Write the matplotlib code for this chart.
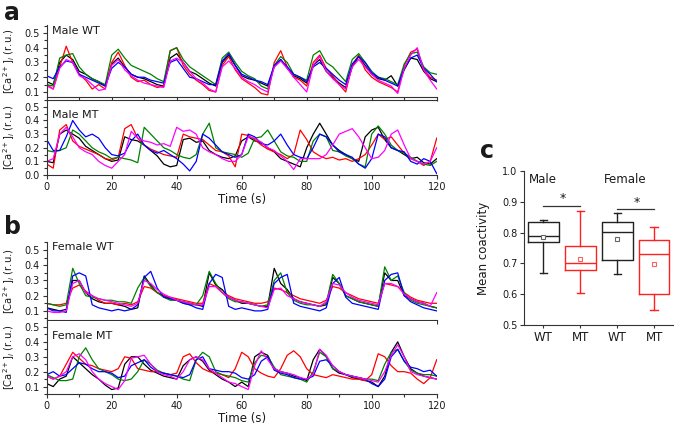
import numpy as np
import matplotlib
matplotlib.use("Agg")
import matplotlib.pyplot as plt
from matplotlib.ticker import MultipleLocator

# ---------------- data ----------------
time_s = np.arange(0, 121, 2)  # sampling grid of read-off values (s)

trace_colors = ["#000000", "#ff0000", "#008000", "#0000ff", "#ff00ff"]

male_wt_black = [0.17,0.15,0.30,0.35,0.32,0.24,0.22,0.19,0.17,0.14,0.29,0.33,0.27,0.22,0.20,0.19,0.17,0.15,0.14,0.33,0.36,0.30,0.24,0.22,0.19,0.16,0.14,0.30,0.35,0.28,0.21,0.19,0.18,0.16,0.14,0.27,0.32,0.26,0.21,0.19,0.16,0.28,0.32,0.24,0.20,0.16,0.13,0.27,0.34,0.28,0.22,0.19,0.18,0.21,0.14,0.25,0.33,0.32,0.24,0.19,0.17]
male_wt_red = [0.15,0.12,0.27,0.41,0.30,0.22,0.18,0.12,0.15,0.12,0.30,0.37,0.28,0.20,0.17,0.18,0.15,0.13,0.14,0.38,0.40,0.28,0.22,0.18,0.15,0.11,0.10,0.28,0.34,0.25,0.19,0.16,0.13,0.09,0.08,0.30,0.38,0.27,0.20,0.18,0.14,0.30,0.35,0.26,0.21,0.15,0.10,0.28,0.35,0.25,0.20,0.17,0.15,0.13,0.10,0.28,0.37,0.39,0.25,0.20,0.18]
male_wt_green = [0.15,0.14,0.33,0.35,0.36,0.27,0.22,0.19,0.17,0.15,0.35,0.39,0.33,0.28,0.26,0.24,0.22,0.19,0.17,0.38,0.40,0.32,0.27,0.24,0.21,0.18,0.15,0.33,0.37,0.30,0.24,0.21,0.19,0.14,0.12,0.28,0.34,0.30,0.22,0.20,0.18,0.35,0.38,0.30,0.27,0.22,0.17,0.32,0.36,0.30,0.24,0.20,0.19,0.17,0.15,0.29,0.36,0.37,0.27,0.23,0.22]
male_wt_blue = [0.21,0.19,0.27,0.31,0.30,0.22,0.20,0.18,0.16,0.14,0.26,0.30,0.27,0.22,0.20,0.20,0.18,0.17,0.16,0.30,0.32,0.26,0.20,0.19,0.17,0.15,0.15,0.31,0.36,0.28,0.22,0.20,0.18,0.17,0.15,0.28,0.32,0.27,0.22,0.20,0.17,0.27,0.30,0.26,0.22,0.18,0.15,0.29,0.34,0.30,0.23,0.20,0.18,0.16,0.14,0.26,0.33,0.35,0.26,0.22,0.17]
male_wt_magenta = [0.14,0.12,0.26,0.32,0.30,0.21,0.19,0.15,0.11,0.12,0.28,0.32,0.25,0.21,0.18,0.16,0.15,0.14,0.13,0.31,0.33,0.30,0.24,0.19,0.16,0.12,0.10,0.27,0.31,0.26,0.20,0.17,0.15,0.12,0.10,0.27,0.31,0.26,0.20,0.15,0.10,0.28,0.34,0.24,0.19,0.15,0.12,0.27,0.32,0.27,0.22,0.18,0.16,0.14,0.09,0.26,0.35,0.40,0.25,0.18,0.12]

male_mt_black = [0.10,0.09,0.30,0.33,0.30,0.27,0.21,0.18,0.15,0.12,0.10,0.11,0.28,0.26,0.25,0.22,0.18,0.14,0.08,0.06,0.07,0.26,0.27,0.24,0.25,0.18,0.15,0.13,0.12,0.14,0.25,0.28,0.25,0.24,0.20,0.17,0.12,0.10,0.08,0.06,0.20,0.30,0.38,0.30,0.22,0.18,0.15,0.12,0.10,0.28,0.33,0.35,0.26,0.20,0.18,0.15,0.12,0.13,0.09,0.08,0.12]
male_mt_red = [0.08,0.05,0.33,0.37,0.25,0.21,0.19,0.17,0.15,0.12,0.11,0.13,0.34,0.37,0.27,0.22,0.19,0.17,0.15,0.14,0.13,0.30,0.28,0.27,0.26,0.22,0.18,0.17,0.14,0.06,0.30,0.29,0.26,0.22,0.19,0.17,0.15,0.12,0.15,0.33,0.26,0.17,0.14,0.12,0.13,0.11,0.12,0.10,0.12,0.15,0.22,0.30,0.26,0.28,0.22,0.16,0.12,0.10,0.07,0.10,0.27]
male_mt_green = [0.18,0.17,0.18,0.20,0.33,0.30,0.25,0.20,0.17,0.15,0.12,0.13,0.12,0.11,0.09,0.35,0.30,0.25,0.20,0.18,0.15,0.13,0.12,0.15,0.30,0.38,0.20,0.17,0.16,0.15,0.13,0.16,0.27,0.28,0.33,0.25,0.17,0.14,0.13,0.10,0.10,0.25,0.30,0.28,0.18,0.17,0.14,0.12,0.08,0.06,0.30,0.36,0.30,0.22,0.18,0.16,0.13,0.10,0.08,0.07,0.10]
male_mt_blue = [0.26,0.18,0.18,0.28,0.40,0.33,0.28,0.30,0.27,0.20,0.15,0.14,0.16,0.25,0.30,0.22,0.18,0.16,0.18,0.15,0.12,0.08,0.03,0.10,0.30,0.27,0.22,0.17,0.15,0.13,0.15,0.30,0.28,0.23,0.22,0.25,0.30,0.22,0.15,0.13,0.12,0.20,0.30,0.28,0.22,0.17,0.15,0.13,0.08,0.05,0.12,0.30,0.28,0.20,0.18,0.17,0.10,0.08,0.12,0.10,0.01]
male_mt_magenta = [0.10,0.12,0.30,0.35,0.28,0.20,0.17,0.15,0.10,0.07,0.05,0.10,0.15,0.32,0.27,0.25,0.24,0.22,0.23,0.21,0.35,0.32,0.33,0.30,0.20,0.17,0.15,0.12,0.10,0.10,0.15,0.28,0.27,0.24,0.20,0.18,0.14,0.10,0.04,0.12,0.12,0.12,0.12,0.15,0.22,0.30,0.32,0.34,0.28,0.20,0.12,0.13,0.18,0.30,0.33,0.22,0.12,0.10,0.08,0.10,0.20]

female_wt_black = [0.12,0.11,0.10,0.11,0.30,0.30,0.22,0.18,0.16,0.15,0.15,0.14,0.13,0.11,0.12,0.33,0.27,0.22,0.20,0.18,0.17,0.16,0.15,0.14,0.13,0.35,0.27,0.24,0.19,0.17,0.15,0.15,0.14,0.13,0.13,0.38,0.28,0.24,0.18,0.16,0.15,0.14,0.13,0.14,0.32,0.28,0.20,0.18,0.16,0.15,0.14,0.13,0.35,0.30,0.30,0.20,0.18,0.16,0.15,0.13,0.12]
female_wt_red = [0.15,0.14,0.14,0.15,0.25,0.27,0.23,0.20,0.17,0.15,0.15,0.14,0.15,0.14,0.16,0.26,0.25,0.22,0.20,0.19,0.18,0.17,0.16,0.15,0.15,0.28,0.26,0.22,0.20,0.18,0.17,0.16,0.15,0.15,0.16,0.25,0.24,0.22,0.20,0.18,0.17,0.16,0.15,0.17,0.26,0.25,0.22,0.20,0.18,0.17,0.16,0.15,0.28,0.27,0.26,0.22,0.19,0.17,0.16,0.15,0.15]
female_wt_green = [0.15,0.14,0.13,0.14,0.38,0.28,0.20,0.19,0.18,0.17,0.17,0.16,0.16,0.15,0.25,0.32,0.26,0.22,0.19,0.17,0.17,0.15,0.14,0.14,0.20,0.36,0.28,0.22,0.18,0.16,0.16,0.15,0.14,0.13,0.14,0.30,0.35,0.22,0.17,0.15,0.14,0.14,0.13,0.15,0.34,0.28,0.20,0.18,0.16,0.15,0.14,0.13,0.39,0.30,0.33,0.22,0.17,0.15,0.14,0.13,0.12]
female_wt_blue = [0.12,0.10,0.10,0.09,0.33,0.35,0.33,0.14,0.12,0.11,0.10,0.11,0.10,0.11,0.14,0.32,0.36,0.25,0.19,0.18,0.17,0.15,0.14,0.12,0.11,0.28,0.34,0.32,0.13,0.11,0.12,0.11,0.10,0.10,0.11,0.28,0.32,0.34,0.15,0.13,0.12,0.11,0.10,0.12,0.28,0.32,0.19,0.15,0.14,0.13,0.12,0.11,0.30,0.34,0.35,0.20,0.16,0.14,0.12,0.11,0.10]
female_wt_magenta = [0.10,0.09,0.09,0.10,0.28,0.30,0.22,0.20,0.18,0.17,0.16,0.15,0.14,0.13,0.15,0.30,0.28,0.24,0.21,0.19,0.17,0.16,0.15,0.14,0.14,0.26,0.26,0.22,0.19,0.17,0.16,0.15,0.14,0.13,0.12,0.24,0.25,0.20,0.18,0.16,0.15,0.14,0.13,0.16,0.28,0.27,0.22,0.19,0.17,0.16,0.15,0.14,0.28,0.28,0.26,0.21,0.18,0.16,0.15,0.13,0.22]

female_mt_black = [0.12,0.10,0.15,0.17,0.30,0.26,0.22,0.18,0.15,0.11,0.08,0.09,0.25,0.30,0.30,0.25,0.21,0.19,0.17,0.16,0.15,0.24,0.28,0.30,0.27,0.21,0.18,0.15,0.13,0.10,0.13,0.10,0.30,0.33,0.31,0.22,0.20,0.19,0.17,0.16,0.14,0.28,0.35,0.30,0.22,0.19,0.18,0.16,0.15,0.14,0.13,0.10,0.17,0.33,0.40,0.30,0.22,0.19,0.17,0.16,0.15]
female_mt_red = [0.17,0.15,0.17,0.25,0.33,0.29,0.25,0.24,0.22,0.21,0.20,0.22,0.30,0.29,0.22,0.21,0.20,0.20,0.19,0.18,0.19,0.30,0.32,0.26,0.22,0.20,0.19,0.18,0.16,0.22,0.33,0.30,0.22,0.19,0.17,0.16,0.22,0.31,0.34,0.30,0.22,0.18,0.17,0.16,0.18,0.17,0.16,0.15,0.15,0.14,0.18,0.32,0.30,0.24,0.20,0.20,0.19,0.15,0.12,0.16,0.28]
female_mt_green = [0.18,0.16,0.14,0.14,0.15,0.30,0.36,0.28,0.22,0.20,0.18,0.15,0.14,0.15,0.20,0.28,0.25,0.21,0.19,0.18,0.17,0.15,0.14,0.28,0.33,0.30,0.20,0.18,0.17,0.16,0.14,0.13,0.26,0.31,0.30,0.23,0.18,0.17,0.16,0.15,0.13,0.20,0.33,0.30,0.22,0.20,0.18,0.17,0.16,0.15,0.15,0.14,0.25,0.33,0.35,0.27,0.21,0.19,0.18,0.18,0.17]
female_mt_blue = [0.18,0.20,0.17,0.18,0.22,0.26,0.25,0.22,0.20,0.20,0.19,0.16,0.17,0.24,0.26,0.28,0.23,0.20,0.19,0.18,0.17,0.16,0.18,0.28,0.30,0.22,0.21,0.20,0.20,0.19,0.16,0.15,0.18,0.27,0.30,0.21,0.19,0.18,0.16,0.15,0.15,0.17,0.27,0.28,0.24,0.20,0.18,0.17,0.16,0.15,0.12,0.10,0.15,0.30,0.35,0.27,0.23,0.22,0.20,0.21,0.17]
female_mt_magenta = [0.17,0.15,0.17,0.20,0.30,0.32,0.28,0.20,0.15,0.12,0.10,0.08,0.14,0.29,0.30,0.31,0.25,0.20,0.18,0.17,0.15,0.20,0.28,0.30,0.28,0.22,0.19,0.16,0.13,0.12,0.10,0.08,0.24,0.34,0.28,0.22,0.20,0.19,0.18,0.16,0.15,0.18,0.35,0.31,0.24,0.20,0.18,0.17,0.16,0.15,0.14,0.13,0.20,0.31,0.38,0.30,0.20,0.18,0.17,0.16,0.15]

panel_titles = ["Male WT", "Male MT", "Female WT", "Female MT"]
panel_traces = [
    [male_wt_black, male_wt_red, male_wt_green, male_wt_blue, male_wt_magenta],
    [male_mt_black, male_mt_red, male_mt_green, male_mt_blue, male_mt_magenta],
    [female_wt_black, female_wt_red, female_wt_green, female_wt_blue, female_wt_magenta],
    [female_mt_black, female_mt_red, female_mt_green, female_mt_blue, female_mt_magenta],
]

# box plot (mean coactivity)
box_labels = ["WT", "MT", "WT", "MT"]
box_whislo = [0.670, 0.605, 0.665, 0.550]
box_q1 = [0.770, 0.680, 0.710, 0.602]
box_med = [0.790, 0.700, 0.803, 0.730]
box_q3 = [0.835, 0.755, 0.835, 0.775]
box_whishi = [0.842, 0.870, 0.865, 0.817]
box_mean = [0.787, 0.714, 0.779, 0.699]
box_colors = ["#222222", "#ff2020", "#222222", "#ff2020"]

# ---------------- figure ----------------
plt.rcParams["font.family"] = "DejaVu Sans"
TXT = "#1a1a1a"
fig = plt.figure(figsize=(6.75, 4.28), dpi=100)

rects = [
    [0.0692, 0.7734, 0.5778, 0.1682],
    [0.0692, 0.5911, 0.5778, 0.1752],
    [0.0692, 0.2523, 0.5778, 0.1830],
    [0.0692, 0.0794, 0.5778, 0.1706],
]
ylims = [(0.066, 0.554), (0.0, 0.55), (0.04, 0.555), (0.05, 0.54)]
yticks = [[0.1, 0.2, 0.3, 0.4, 0.5], [0.0, 0.1, 0.2, 0.3, 0.4, 0.5],
          [0.1, 0.2, 0.3, 0.4, 0.5], [0.1, 0.2, 0.3, 0.4, 0.5]]
title_y = [0.99, 0.87, 0.99, 0.86]
show_xlabels = [False, True, False, True]
show_top = [False, True, False, False]

for i in range(4):
    ax = fig.add_axes(rects[i])
    for vals, c in zip(panel_traces[i], trace_colors):
        ax.plot(time_s, vals, color=c, lw=0.9)
    ax.set_xlim(0, 120)
    ax.set_ylim(*ylims[i])
    ax.set_yticks(yticks[i])
    ax.set_yticklabels([f"{v:.1f}" for v in yticks[i]])
    ax.yaxis.set_minor_locator(MultipleLocator(0.05))
    ax.xaxis.set_major_locator(MultipleLocator(20))
    ax.xaxis.set_minor_locator(MultipleLocator(10))
    ax.spines["right"].set_visible(False)
    ax.spines["top"].set_visible(show_top[i])
    for s in ax.spines.values():
        s.set_linewidth(0.8)
        s.set_color("#333333")
    ax.tick_params(which="major", direction="out", length=3, width=0.8,
                   labelsize=7, pad=2, colors="#333333", labelcolor=TXT)
    ax.tick_params(which="minor", direction="out", length=2.5, width=0.8,
                   colors="#333333")
    if show_xlabels[i]:
        ax.set_xlabel("Time (s)", fontsize=8.5, labelpad=1, color=TXT)
    else:
        ax.tick_params(axis="x", labelbottom=False)
    ax.set_ylabel(r"[Ca$^{2+}$]$_i$ (r.u.)", fontsize=7.2, color=TXT)
    ax.yaxis.set_label_coords(-0.075, 0.5)
    ax.text(0.013, title_y[i], panel_titles[i], transform=ax.transAxes,
            ha="left", va="top", fontsize=8, color=TXT)

# box plot panel
axb = fig.add_axes([0.7767, 0.2407, 0.2203, 0.3598])
positions = [1, 2, 3, 4]
for k in range(4):
    st = dict(med=box_med[k], q1=box_q1[k], q3=box_q3[k], whislo=box_whislo[k],
              whishi=box_whishi[k], mean=box_mean[k], fliers=[], label=box_labels[k])
    c = box_colors[k]
    axb.bxp([st], positions=[positions[k]], widths=0.83, capwidths=0.2,
            showmeans=True, showfliers=False, patch_artist=False,
            boxprops=dict(color=c, lw=1.0), medianprops=dict(color=c, lw=1.0),
            whiskerprops=dict(color=c, lw=1.0), capprops=dict(color=c, lw=1.0),
            meanprops=dict(marker="s", markersize=3.5, markerfacecolor="white",
                           markeredgecolor="#666666" if k % 2 == 0 else "#ff6060",
                           markeredgewidth=0.8))
axb.set_xlim(0.48, 4.51)
axb.set_ylim(0.5, 1.0)
axb.set_xticks(positions)
axb.set_xticklabels(box_labels, fontsize=8.5, color=TXT)
axb.set_yticks([0.5, 0.6, 0.7, 0.8, 0.9, 1.0])
axb.set_yticklabels([f"{v:.1f}" for v in [0.5, 0.6, 0.7, 0.8, 0.9, 1.0]])
axb.spines["right"].set_visible(False)
axb.spines["top"].set_visible(False)
for s in axb.spines.values():
    s.set_linewidth(0.8)
    s.set_color("#333333")
axb.tick_params(axis="y", direction="out", length=3, width=0.8, labelsize=7,
                pad=2, colors="#333333", labelcolor=TXT)
axb.tick_params(axis="x", direction="out", length=2.5, width=0.8, pad=2,
                colors="#333333", labelcolor=TXT)
axb.set_ylabel("Mean coactivity", fontsize=8.5, color=TXT)
axb.yaxis.set_label_coords(-0.23, 0.5)
axb.text(0.6, 0.995, "Male", ha="left", va="top", fontsize=8.5, color=TXT)
axb.text(2.63, 0.995, "Female", ha="left", va="top", fontsize=8.5, color=TXT)
# significance bars
axb.plot([1, 2], [0.886, 0.886], color="#333333", lw=0.9)
axb.text(1.52, 0.888, "*", ha="center", va="bottom", fontsize=9, color=TXT)
axb.plot([3, 4], [0.876, 0.876], color="#333333", lw=0.9)
axb.text(3.54, 0.878, "*", ha="center", va="bottom", fontsize=9, color=TXT)

# panel letters
fig.text(0.006, 0.998, "a", fontsize=17, fontweight="bold", color=TXT, va="top")
fig.text(0.006, 0.498, "b", fontsize=17, fontweight="bold", color=TXT, va="top")
fig.text(0.711, 0.676, "c", fontsize=17, fontweight="bold", color=TXT, va="top")

fig.savefig("out.png", dpi=100)
